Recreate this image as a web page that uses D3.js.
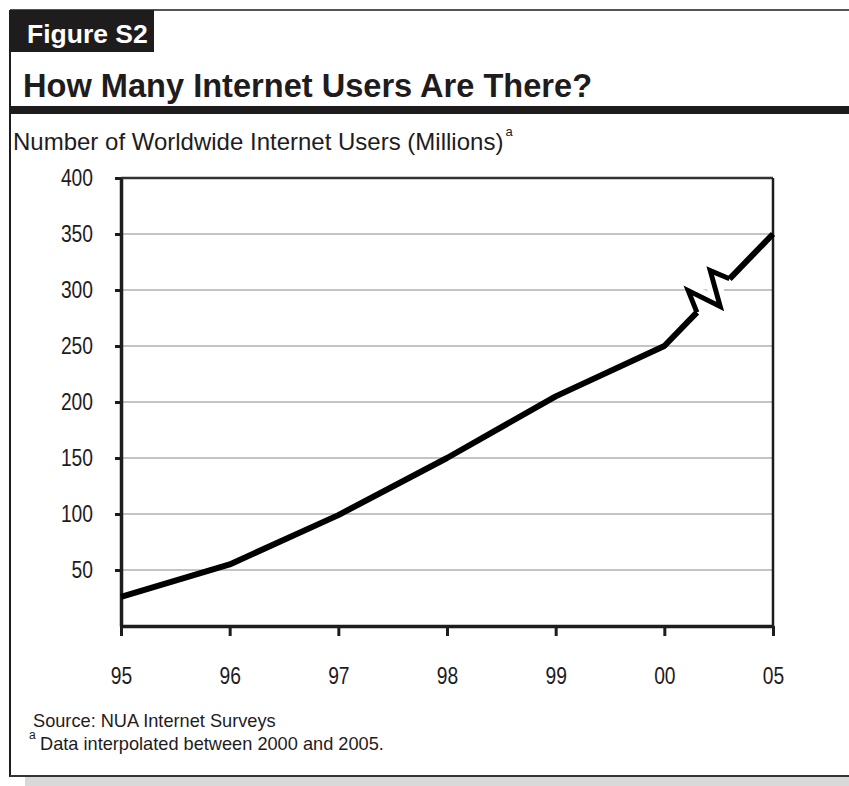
<!DOCTYPE html>
<html>
<head>
<meta charset="utf-8">
<script src="https://cdn.jsdelivr.net/npm/d3@7"></script>
<style>
  body { margin: 0; background: #fff; }
  svg { display: block; }
</style>
</head>
<body>
<svg id="chart" width="849" height="786"></svg>
<script>
// data
const years = ["95", "96", "97", "98", "99", "00", "05"];
const users = [26, 55, 99, 150, 205, 250, 350];
const yTicks = [50, 100, 150, 200, 250, 300, 350, 400];
const breakFrom = "00";
const breakTo = "05";

const svg = d3.select("#chart");
const ink = "#1f1c1d";
const sans = "'Liberation Sans', Arial, sans-serif";
const squeeze = 0.82; // tick labels are a condensed face in the original

const x = d3.scalePoint().domain(years).range([121, 773]);
const y = d3.scaleLinear().domain([0, 400]).range([626, 178]);

svg.append("rect").attr("width", 849).attr("height", 786).attr("fill", "#fff");

// --- frame ---
svg.append("rect").attr("x", 25).attr("y", 777).attr("width", 824).attr("height", 9).attr("fill", "#d9d9d9");
svg.append("line").attr("x1", 10).attr("x2", 849).attr("y1", 10).attr("y2", 10)
    .attr("stroke", "#555").attr("stroke-width", 2);
svg.append("line").attr("x1", 10).attr("x2", 10).attr("y1", 10).attr("y2", 777)
    .attr("stroke", ink).attr("stroke-width", 2);
svg.append("line").attr("x1", 10).attr("x2", 849).attr("y1", 776).attr("y2", 776)
    .attr("stroke", "#333").attr("stroke-width", 2);

svg.append("rect").attr("x", 10).attr("y", 10).attr("width", 144).attr("height", 42).attr("fill", ink);
svg.append("text").attr("x", 27).attr("y", 43)
    .style("font-family", sans).style("font-weight", "bold").style("font-size", "26.5px")
    .attr("fill", "#fff").text("Figure S2");

svg.append("text").attr("x", 23).attr("y", 97)
    .style("font-family", sans).style("font-weight", "bold").style("font-size", "32.6px")
    .attr("fill", ink).text("How Many Internet Users Are There?");

svg.append("rect").attr("x", 10).attr("y", 106).attr("width", 839).attr("height", 8).attr("fill", ink);

// axis title
const yt = svg.append("text").attr("x", 13).attr("y", 150)
    .style("font-family", sans).style("font-size", "24px").attr("fill", ink);
yt.append("tspan").text("Number of Worldwide Internet Users (Millions)");
yt.append("tspan").attr("dy", -14).attr("dx", 2).style("font-size", "13px").text("a");

// --- grid ---
svg.append("g").selectAll("line")
    .data(yTicks.filter(d => d < 400))
    .join("line")
    .attr("x1", x.range()[0]).attr("x2", x.range()[1])
    .attr("y1", d => y(d)).attr("y2", d => y(d))
    .attr("stroke", "#c4c4c4").attr("stroke-width", 2);

// plot border top/right
svg.append("line").attr("x1", x.range()[0]).attr("x2", x.range()[1])
    .attr("y1", y(400)).attr("y2", y(400)).attr("stroke", "#333").attr("stroke-width", 2.5);
svg.append("line").attr("x1", x.range()[1]).attr("x2", x.range()[1])
    .attr("y1", y(400)).attr("y2", y(0)).attr("stroke", ink).attr("stroke-width", 2.5);

// --- axes ---
const yAxis = svg.append("g").attr("transform", `translate(${x.range()[0]},0)`)
    .call(d3.axisLeft(y).tickValues(yTicks).tickSize(6).tickSizeOuter(0).tickPadding(22));
const xAxis = svg.append("g").attr("transform", `translate(0,${y(0)})`)
    .call(d3.axisBottom(x).tickSize(10).tickSizeOuter(0).tickPadding(31));

[yAxis, xAxis].forEach(g => {
    g.select(".domain").attr("stroke", ink).attr("stroke-width", 3.5);
    g.selectAll(".tick line").attr("stroke", ink).attr("stroke-width", 3);
    g.selectAll(".tick text").attr("fill", ink)
        .style("font-family", sans).style("font-size", "23.5px")
        .attr("x", function() { return (+d3.select(this).attr("x") || 0) / squeeze; })
        .attr("transform", `scale(${squeeze},1)`);
});

// --- data line with a break between 00 and 05 ---
const pts = years.map((yr, i) => [x(yr), y(users[i])]);
const iA = years.indexOf(breakFrom), iB = years.indexOf(breakTo);
const a = pts[iA], b = pts[iB];
const lerp = t => [a[0] + (b[0] - a[0]) * t, a[1] + (b[1] - a[1]) * t];
const g0 = lerp(0.30), g1 = lerp(0.60), gc = lerp(0.45);
const zig = [g0, [gc[0] - 25, gc[1] - 5], [gc[0] + 7, gc[1] + 11], [gc[0] - 3, gc[1] - 25], g1];

const line = d3.line();

svg.append("path").attr("d", line(zig.slice(1, 4)))
    .attr("fill", "none").attr("stroke", "#fff").attr("stroke-width", 16).attr("stroke-linejoin", "round");

svg.append("path").attr("d", line(pts.slice(0, iA + 1).concat([g0])))
    .attr("fill", "none").attr("stroke", "#000").attr("stroke-width", 6).attr("stroke-linejoin", "round");
svg.append("path").attr("d", line([g1, b]))
    .attr("fill", "none").attr("stroke", "#000").attr("stroke-width", 6);
svg.append("path").attr("d", line(zig))
    .attr("fill", "none").attr("stroke", "#000").attr("stroke-width", 5).attr("stroke-linejoin", "miter");

// --- footnotes ---
svg.append("text").attr("x", 33).attr("y", 727)
    .style("font-family", sans).style("font-size", "18.2px").attr("fill", ink)
    .text("Source: NUA Internet Surveys");
svg.append("text").attr("x", 29).attr("y", 739)
    .style("font-family", sans).style("font-size", "12px").attr("fill", ink).text("a");
svg.append("text").attr("x", 40).attr("y", 750)
    .style("font-family", sans).style("font-size", "18.2px").attr("fill", ink)
    .text("Data interpolated between 2000 and 2005.");
</script>
</body>
</html>
